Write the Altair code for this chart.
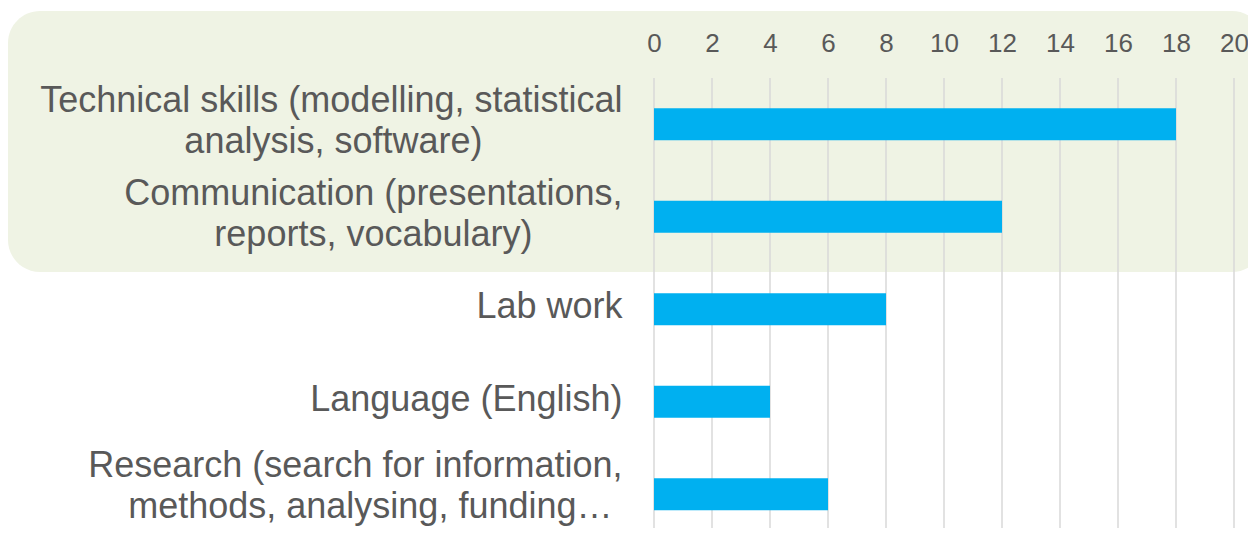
import altair as alt
import pandas as pd

PAD = "\u00a0"
END = "\u200b"
categories = [
    "Technical skills (modelling, statistical|analysis, software)" + PAD * 14 + END,
    "Communication (presentations,|reports, vocabulary)" + PAD * 9 + END,
    "Lab work",
    "Language (English)",
    "Research (search for information,|methods, analysing, funding…" + PAD + END,
]
values = [18, 12, 8, 4, 6]
grid_ticks = [0, 2, 4, 6, 8, 10, 12, 14, 16, 18, 20]

df = pd.DataFrame({"skill": categories, "count": values})
grid_df = pd.DataFrame({"tick": grid_ticks})

FONT = "Liberation Sans"
TEXT = "#595959"

y_scale = alt.Scale(domain=categories, paddingInner=0, paddingOuter=0, range=[0, 462.5])
x_scale = alt.Scale(domain=[0, 20], nice=False)

background = alt.Chart(df).mark_rect(
    color="#EFF3E4", cornerRadius=32
).encode(
    x=alt.value(-646), x2=alt.value(610), y=alt.value(-67), y2=alt.value(194)
).transform_filter("datum.count == 18")

grid = alt.Chart(grid_df).mark_rule(color="#D9D9D9", strokeWidth=1.5).encode(
    x=alt.X("tick:Q", scale=x_scale),
    y=alt.value(0),
    y2=alt.value(470),
)

bars = alt.Chart(df).mark_bar(color="#00B0F0", size=32).encode(
    x=alt.X(
        "count:Q",
        scale=x_scale,
        axis=alt.Axis(
            orient="top", values=grid_ticks, grid=False, domain=False, ticks=False,
            labelFont=FONT, labelFontSize=26, labelColor=TEXT, labelPadding=22,
            labelFlush=False, title=None, zindex=1,
        ),
    ),
    y=alt.Y(
        "skill:N",
        scale=y_scale,
        sort=categories,
        axis=alt.Axis(
            grid=False, domain=False, ticks=False,
            labelFont=FONT, labelFontSize=36, labelColor=TEXT, labelPadding=32,
            labelLimit=700, labelLineHeight=41, labelExpr="split(datum.label, '|')",
            labelOffset={
                "condition": [
                    {"test": "indexof(datum.value, 'Research') >= 0", "value": -28},
                    {"test": "indexof(datum.value, '|') >= 0", "value": -23},
                ],
                "value": -2,
            },
            title=None, zindex=1,
        ),
    ),
)

chart = alt.layer(background, grid, bars).properties(
    width=580,
    height=450,
    autosize=alt.AutoSizeParams(type="none"),
    padding={"left": 646, "top": 70, "right": 14, "bottom": 0},
).configure_view(stroke=None)

chart.save("out.html", embed_options={"renderer": "svg", "actions": False})
